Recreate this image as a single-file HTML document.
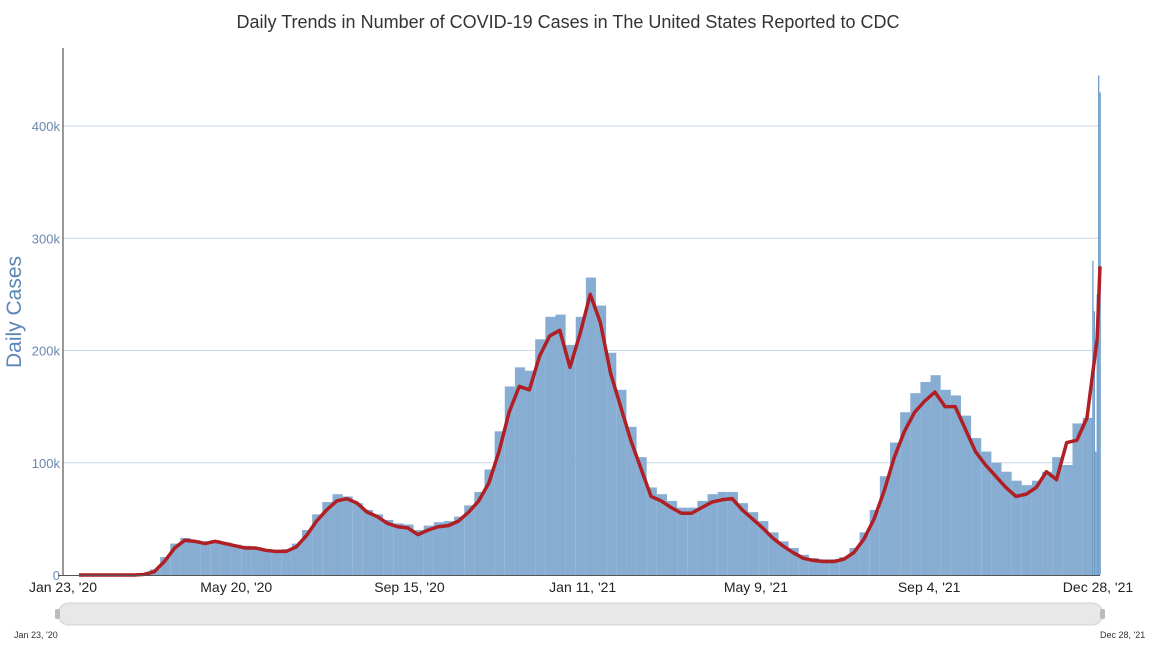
<!DOCTYPE html>
<html><head><meta charset="utf-8">
<style>
body{margin:0;background:#fff;width:1158px;height:652px;overflow:hidden;font-family:"Liberation Sans",sans-serif}
</style></head>
<body>
<svg id="chart" width="1158" height="652" viewBox="0 0 1158 652" xmlns="http://www.w3.org/2000/svg">
<text x="568" y="28" text-anchor="middle" font-size="18" fill="#333" font-family="Liberation Sans, sans-serif">Daily Trends in Number of COVID-19 Cases in The United States Reported to CDC</text>
<text transform="translate(21,312) rotate(-90)" text-anchor="middle" font-size="21" fill="#5b86b5">Daily Cases</text>
<g id="grid"></g>
<g id="bars"></g>
<g id="line"></g>
<g id="axes"></g>
<g>
<rect x="58" y="603" width="1045" height="22" rx="11" fill="#e8e8e8" stroke="#d2d2d2"/>
<rect x="55" y="609" width="5" height="10" rx="2" fill="#bbb"/>
<rect x="1100" y="609" width="5" height="10" rx="2" fill="#bbb"/>
<text x="14" y="638" font-size="9" fill="#333">Jan 23, '20</text>
<text x="1100" y="638" font-size="9" fill="#333">Dec 28, '21</text>
</g>
</svg>
<script>
// weekly bar values (k), weeks starting Jan 23 2020
const weeklyBars = [0,0,0,0,0,0,1,5,16,28,33,31,30,31,29,27,26,25,23,22,23,28,40,54,65,72,70,64,58,54,49,46,45,40,44,47,48,52,62,74,94,128,168,185,182,210,230,232,205,230,265,240,198,165,132,105,78,72,66,60,60,66,72,74,74,64,56,48,38,30,24,18,15,14,14,16,24,38,58,88,118,145,162,172,178,165,160,142,122,110,100,92,84,80,84,92,105,98,135,140,160];
// daily tail Dec 23 - Dec 28 2021 (k)
const tailBars = [280,235,110,250,445,430];
const tailStartDay = 700;
// weekly 7-day average values (k), plotted mid-week
const avgLine = [0,0,0,0,0,0,0.5,3,12,24,31,30,28,30,28,26,24,24,22,21,21,25,35,48,58,66,68,64,56,52,46,43,42,36,40,43,44,48,56,66,82,110,145,168,165,195,213,218,185,215,250,225,180,150,120,95,70,66,60,55,55,60,65,67,68,58,50,42,33,26,20,15,13,12,12,14,20,32,50,75,105,128,145,155,163,150,150,130,110,98,88,78,70,72,78,92,85,118,120,140,210];
const lastAvg = 275;
const yTicks = [0,100,200,300,400];
const xTickLabels = ["Jan 23, '20","May 20, '20","Sep 15, '20","Jan 11, '21","May 9, '21","Sep 4, '21","Dec 28, '21"];
const xTickDays = [0,118,236,354,472,590,705];

const X0=79, X1=1100, TOTAL=705, Y0=575, PXK=449/400;
const x = d => X0 + (X1-X0)*d/TOTAL;
const y = v => Y0 - v*PXK;
const xl = d => 63 + (1098-63)*d/TOTAL;
const NS="http://www.w3.org/2000/svg";
function mk(tag, attrs, parent){const e=document.createElementNS(NS,tag);for(const k in attrs)e.setAttribute(k,attrs[k]);parent.appendChild(e);return e;}
const grid=document.getElementById('grid'),bars=document.getElementById('bars'),line=document.getElementById('line'),axes=document.getElementById('axes');
yTicks.forEach(t=>{
  if(t>0){const g=mk('line',{x1:63,x2:1100,y1:y(t),y2:y(t),stroke:'#c9d7e6','stroke-width':1},grid);
  
  }
  const tx=mk('text',{x:60,y:y(t)+5,'text-anchor':'end','font-size':13,fill:'#6b88ad'},axes);
  tx.textContent=t===0?'0':t+'k';
  
  
});
weeklyBars.forEach((v,i)=>{
  const d0=i*7, d1=Math.min(d0+7,tailStartDay);
  if(d0>=tailStartDay||v<=0)return;
  const r=mk('rect',{x:x(d0),y:y(v),width:x(d1)-x(d0),height:v*PXK,fill:'#87add2'},bars);
  
  
});
tailBars.forEach((v,i)=>{
  const d=tailStartDay+i;
  const r=mk('rect',{x:x(d)-0.5,y:y(v),width:1.3,height:v*PXK,fill:'#6f9cc8'},bars);
  
  
});
let pts=avgLine.map((v,i)=>[x(Math.min(i*7+3,TOTAL-2)),y(v)]);
pts.unshift([x(0),y(avgLine[0])]);
pts.push([x(TOTAL),y(lastAvg)]);
const pl=mk('polyline',{points:pts.map(p=>p.join(',')).join(' '),fill:'none',stroke:'#b01f24','stroke-width':3.5,'stroke-linejoin':'round'},line);


const ax=mk('line',{x1:63,x2:63,y1:48,y2:575,stroke:'#333','stroke-width':1},axes);


const bx=mk('line',{x1:58,x2:1100,y1:575.5,y2:575.5,stroke:'#555','stroke-width':1},axes);


xTickLabels.forEach((l,i)=>{
  const t=mk('text',{x:xl(xTickDays[i]),y:592,'text-anchor':'middle','font-size':14,fill:'#222'},axes);
  t.textContent=l;
  
  
});
</script>
</body></html>
